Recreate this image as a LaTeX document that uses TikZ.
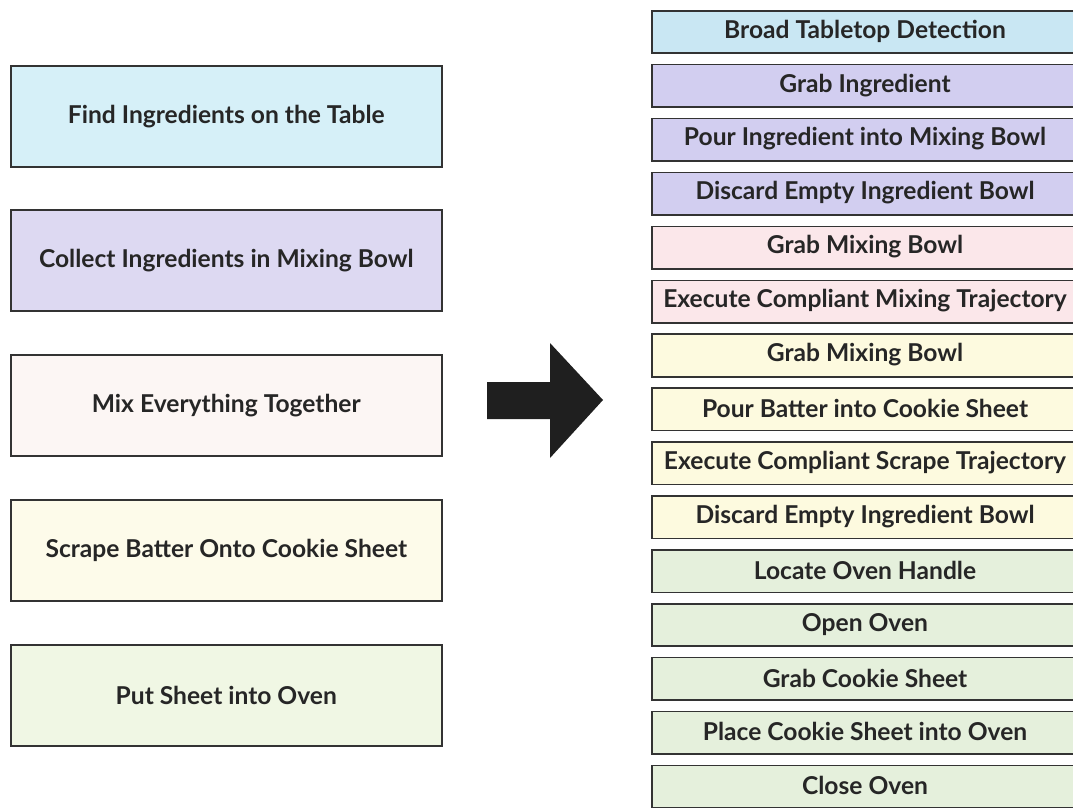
\documentclass[tikz,border=0pt]{standalone}
\usepackage{fontspec}
\setmainfont{Lato}
\begin{document}
\begin{tikzpicture}[x=1pt,y=-1pt,
  box/.style={draw=black!80, line width=1.6pt, inner sep=0pt, anchor=north west},
  label/.style={text=black!85, font=\fontsize{24.6}{28}\bfseries\selectfont},
  lbox/.style={box, label, minimum width=431pt, minimum height=101pt},
  rbox/.style={box, minimum width=470pt, minimum height=42.5pt}]
\definecolor{cyanL}{HTML}{D6F0F8}
\definecolor{lavL}{HTML}{DDD9F2}
\definecolor{pinkL}{HTML}{FCF6F4}
\definecolor{creamL}{HTML}{FDFBEA}
\definecolor{greenL}{HTML}{F0F7E4}
\definecolor{cyanR}{HTML}{C9E7F3}
\definecolor{lavR}{HTML}{D2CEF0}
\definecolor{pinkR}{HTML}{FBE7EA}
\definecolor{creamR}{HTML}{FDFADF}
\definecolor{greenR}{HTML}{E5F0DC}
\useasboundingbox (0,0) rectangle (1073,808);
\begin{scope}
\clip (0,0) rectangle (1073,808);
% high-level tasks
\node[lbox, fill=cyanL]  (L1) at (10,65)  {Find Ingredients on the Table};
\node[lbox, fill=lavL]   (L2) at (10,209) {Collect Ingredients in Mixing Bowl};
\node[lbox, fill=pinkL]  (L3) at (10,354) {Mix Everything Together};
\node[lbox, fill=creamL] (L4) at (10,499) {Scrape Batter Onto Cookie Sheet};
\node[lbox, fill=greenL] (L5) at (10,644) {Put Sheet into Oven};
% primitive actions (boxes run off the right edge)
\foreach \i/\c/\t in {
  1/cyanR/Broad Tabletop Detection,
  2/lavR/Grab Ingredient,
  3/lavR/Pour Ingredient into Mixing Bowl,
  4/lavR/Discard Empty Ingredient Bowl,
  5/pinkR/Grab Mixing Bowl,
  6/pinkR/Execute Compliant Mixing Trajectory,
  7/creamR/Grab Mixing Bowl,
  8/creamR/Pour Batter into Cookie Sheet,
  9/creamR/Execute Compliant Scrape Trajectory,
  10/creamR/Discard Empty Ingredient Bowl,
  11/greenR/Locate Oven Handle,
  12/greenR/Open Oven,
  13/greenR/Grab Cookie Sheet,
  14/greenR/Place Cookie Sheet into Oven,
  15/greenR/Close Oven}
{
  \node[rbox, fill=\c] (R\i) at (651,{10+53.9*(\i-1)}) {};
  \node[label] (T\i) at (865,{31.2+53.9*(\i-1)}) {\t};
}
\end{scope}
% block arrow
\fill[black!88] (487,382) -- (550,382) -- (550,343) -- (603,400) -- (550,458) -- (550,419) -- (487,419) -- cycle;
\end{tikzpicture}
\end{document}
